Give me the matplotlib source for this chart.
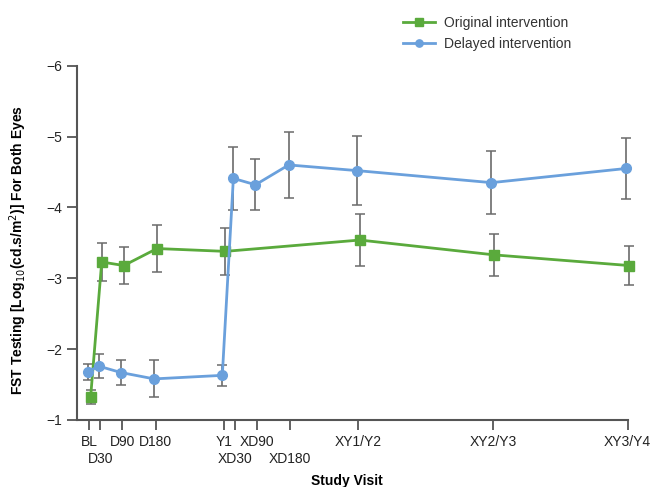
import numpy as np
import matplotlib
matplotlib.use('Agg')
import matplotlib.pyplot as plt

plt.rcParams['font.family'] = ['Liberation Sans', 'DejaVu Sans']

# study visits (days from baseline): first row and second row of tick labels
row1_days = [0, 90, 180, 365, 455, 730, 1095, 1460]
row1_labels = ['BL', 'D90', 'D180', 'Y1', 'XD90', 'XY1/Y2', 'XY2/Y3', 'XY3/Y4']
row2_days = [30, 395, 545]
row2_labels = ['D30', 'XD30', 'XD180']

# original intervention
orig_days = [0, 30, 90, 180, 365, 730, 1095, 1460]
orig_vals = [-1.33, -3.23, -3.18, -3.42, -3.38, -3.54, -3.33, -3.18]
orig_err = [0.10, 0.27, 0.265, 0.33, 0.33, 0.37, 0.30, 0.28]

# delayed intervention
del_days = [0, 30, 90, 180, 365, 395, 455, 545, 730, 1095, 1460]
del_vals = [-1.68, -1.76, -1.67, -1.58, -1.63, -4.41, -4.32, -4.60, -4.52, -4.35, -4.55]
del_err = [0.11, 0.165, 0.175, 0.26, 0.15, 0.44, 0.36, 0.46, 0.49, 0.44, 0.43]

green = '#5aaa3c'
blue = '#6aa0dc'
axcol = '#555555'

fig = plt.figure(figsize=(6.51, 4.87), dpi=100)
ax = fig.add_axes([0.1183, 0.1376, 0.8457, 0.7274])

for days, vals, err, shift in [(orig_days, orig_vals, orig_err, 4),
                               (del_days, del_vals, del_err, -4)]:
    eb = ax.errorbar(np.array(days) + shift, vals, yerr=err, fmt='none',
                     ecolor='#6b6b6b', elinewidth=1.2, capsize=3.5, capthick=1.1, zorder=2)
    for a in eb.lines[1] + eb.lines[2]:
        a.set_clip_on(False)

ax.plot(np.array(orig_days) + 4, orig_vals, color=green, lw=2, marker='s', ms=7,
        label='Original intervention', zorder=3, clip_on=False)
ax.plot(np.array(del_days) - 4, del_vals, color=blue, lw=2, marker='o', ms=7,
        label='Delayed intervention', zorder=3, clip_on=False)

ax.set_xlim(-33, 1460)
ax.set_ylim(-1, -6)
ax.set_yticks([-1, -2, -3, -4, -5, -6])
ax.set_yticklabels(['\u22121', '\u22122', '\u22123', '\u22124', '\u22125', '\u22126'])
ax.set_xticks(row1_days)
ax.set_xticklabels(row1_labels)
ax.set_xticks(row2_days, minor=True)
ax.set_xticklabels(row2_labels, minor=True)

for s in ['top', 'right']:
    ax.spines[s].set_visible(False)
for s in ['left', 'bottom']:
    ax.spines[s].set_color(axcol)
    ax.spines[s].set_linewidth(1.5)
ax.tick_params(axis='both', which='both', colors=axcol, length=7, width=1.3,
               labelsize=10, labelcolor='#222222', direction='out')
ax.tick_params(axis='x', which='major', pad=4)
ax.tick_params(axis='x', which='minor', pad=16)

ax.set_ylabel('FST Testing [Log$_{10}$(cd.s/m$^2$)] For Both Eyes', fontsize=10,
              fontweight='bold')
ax.yaxis.set_label_coords(-0.088, 0.48)
ax.set_xlabel('Study Visit', fontsize=10, fontweight='bold')
ax.xaxis.set_label_coords(0.49, -0.152)

ax.legend(loc='upper left', bbox_to_anchor=(0.57, 1.175), frameon=False, fontsize=10,
          handlelength=2.3, handletextpad=0.6, markerscale=0.75, labelcolor='#333333')

fig.savefig('out.png', dpi=100)
